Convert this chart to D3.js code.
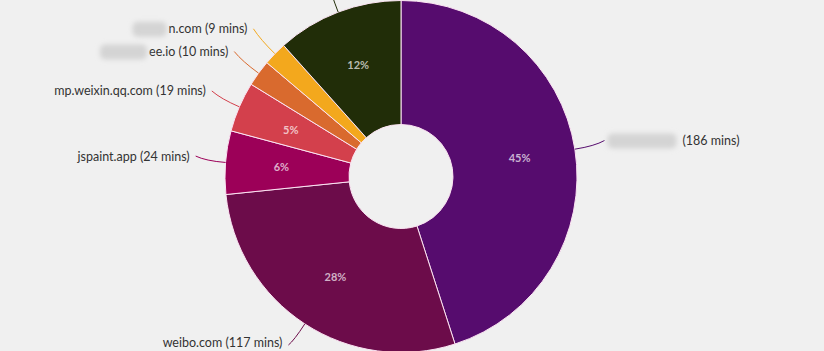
<!DOCTYPE html>
<html>
<head>
<meta charset="utf-8">
<script src="https://cdn.jsdelivr.net/npm/d3@7"></script>
<style>
  html, body { margin: 0; padding: 0; background: #f0f0f0; }
  svg { display: block; }
</style>
</head>
<body>
<svg id="chart" width="824" height="351"></svg>
<script>
// data
const sites = ["", "weibo.com", "jspaint.app", "mp.weixin.qq.com", "ee.io", "n.com", null]   // null: label lies off the picture
const minutes = [186, 117, 24, 19, 10, 9, 48]
const blurred = [69, 0, 0, 0, 47, 34, 0]   // width of the blurred-out part of the name
const colors = ["#560c6e", "#6c0c4a", "#9c0058", "#d3404c", "#d96a2e", "#f3a81d", "#212d08"]

const width = 824, height = 351,
    cx = 401, cy = 176.5,
    outer = 176, inner = 52,
    total = d3.sum(minutes)

let svg = d3.select("#chart")

svg.append("defs")
    .append("filter")
    .attr("id", "blur")
    .attr("x", "-30%").attr("y", "-60%")
    .attr("width", "160%").attr("height", "220%")
    .append("feGaussianBlur")
    .attr("stdDeviation", 2.5)

let g = svg.append("g")
    .attr("transform", `translate(${cx}, ${cy})`)

let arcs = d3.pie().sort(null).value(d => d)(minutes),
    arc = d3.arc().innerRadius(inner).outerRadius(outer),
    labelArc = d3.arc().innerRadius(120).outerRadius(120)

// slices
g.selectAll("path.slice")
    .data(arcs)
    .join("path")
    .attr("class", "slice")
    .attr("d", arc)
    .attr("fill", (d, i) => colors[i])
    .attr("stroke", "#fbe3f2")
    .attr("stroke-width", 1)

// percentages inside (small slices skipped)
g.selectAll("text.pct")
    .data(arcs.filter(d => d.endAngle - d.startAngle > 0.2))
    .join("text")
    .attr("class", "pct")
    .attr("transform", d => `translate(${labelArc.centroid(d)})`)
    .attr("text-anchor", "middle")
    .attr("dominant-baseline", "central")
    .style("font-family", "Lato, sans-serif")
    .style("font-size", "11px")
    .style("font-weight", "bold")
    .style("fill", d => d3.interpolateRgb(colors[d.index], "#ffffff")(0.68))
    .text(d => Math.round(d.value / total * 100) + "%")

// link lines + outside labels
const polar = (a, r) => [Math.sin(a) * r, -Math.cos(a) * r]

arcs.forEach((d, i) => {
    let mid = (d.startAngle + d.endAngle) / 2,
        start = polar(mid, outer),
        ctrl = polar(mid, outer + 20),
        end = polar(mid, outer + 30),
        right = Math.sin(mid) > 0

    end[1] -= 4

    g.append("path")
        .attr("d", `M${start[0]},${start[1]}Q${ctrl[0]},${ctrl[1]} ${end[0]},${end[1]}`)
        .attr("fill", "none")
        .attr("stroke", colors[i])
        .attr("stroke-width", 1)

    if (sites[i] === null) return

    let label = (sites[i] ? sites[i] + " " : "") + `(${d.value} mins)`,
        textX = right ? end[0] + 5 + blurred[i] + (blurred[i] ? 4 : 0) : end[0] - 6,
        textY = Math.min(end[1], height - cy - 9)

    let text = g.append("text")
        .attr("x", textX)
        .attr("y", textY)
        .attr("text-anchor", right ? "start" : "end")
        .attr("dominant-baseline", "central")
        .style("font-family", "Lato, sans-serif")
        .style("font-size", "12.5px")
        .style("fill", "#333")
        .text(label)

    if (blurred[i]) {
        let box = text.node().getBBox(),
            bx = right ? end[0] + 3 : box.x - blurred[i] - 2
        g.append("rect")
            .attr("x", bx)
            .attr("y", textY - 7)
            .attr("width", blurred[i])
            .attr("height", 15)
            .attr("rx", 5)
            .attr("fill", "#d4d4d4")
            .attr("filter", "url(#blur)")
    }
})
</script>
</body>
</html>
